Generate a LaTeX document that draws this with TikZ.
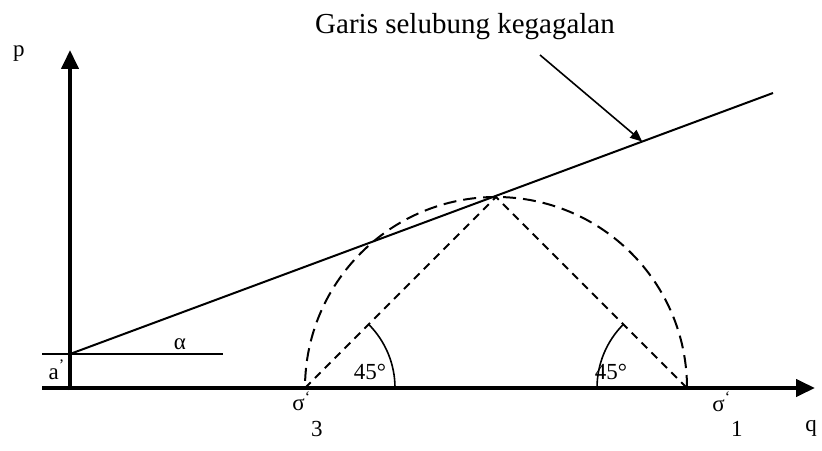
\documentclass[tikz,border=0pt]{standalone}
\usepackage{fontspec}
\setmainfont{Liberation Serif}
\usetikzlibrary{arrows.meta}

\begin{document}
\begin{tikzpicture}[
    x=0.5pt, y=0.5pt,
    axis/.style={line width=2pt, -{Triangle[length=9.5pt,width=8.5pt]}},
    envelope/.style={line width=1pt},
    circ/.style={line width=1pt, dash pattern=on 6.5pt off 3.5pt},
    chord/.style={line width=0.9pt, dash pattern=on 4pt off 3pt},
    anglearc/.style={line width=0.8pt},
    lbl/.style={font=\fontsize{11.5}{13}\selectfont, inner sep=1pt},
    pointer/.style={line width=0.8pt, -{Triangle[length=6pt,width=5pt]}}
]
    \useasboundingbox (0,0) rectangle (822,450);

    % Points
    \coordinate (vbot) at (70,60);
    \coordinate (ptip) at (70,400);
    \coordinate (qstart) at (42,62);
    \coordinate (qtip) at (815,62);
    \coordinate (A) at (70,96);
    \coordinate (aleft) at (42,96);
    \coordinate (aright) at (223,96);
    \coordinate (E) at (773,357);
    \coordinate (s3) at (305,62);
    \coordinate (s1) at (687,62);
    \coordinate (top) at (496,253);
    \coordinate (arc3) at (395,62);
    \coordinate (arc1) at (597,62);
    \coordinate (pstart) at (540,395);

    % Axes
    \draw[axis] (vbot) -- (ptip);
    \draw[axis] (qstart) -- (qtip);
    \draw[line width=1pt] (aleft) -- (aright);

    % Failure envelope
    \draw[envelope] (A) -- (E) coordinate[pos=0.814] (ptarget);

    % Mohr circle
    \draw[circ] (s1) arc[start angle=0, end angle=180, radius=191];
    \draw[chord] (s3) -- (top) -- (s1);

    % Angles
    \draw[anglearc] (arc3) arc[start angle=0, end angle=45, radius=90];
    \draw[anglearc] (arc1) arc[start angle=180, end angle=135, radius=90];

    % Labels
    \node[lbl] (plbl) at (19,396) {p};
    \node[lbl] (qlbl) at (811,22) {q};
    \node[lbl] (alpha) at (180,106) {α};
    \node[lbl] (albl) at (57,80) {a\textsuperscript{’}};
    \node[lbl] (ang3) at (370,78) {45°};
    \node[lbl] (ang1) at (611,78) {45°};
    \node[lbl, anchor=west] (sig3) at (290,36) {σ\textsuperscript{‘}\raisebox{-1.1em}{3}};
    \node[lbl, anchor=west] (sig1) at (710,36) {σ\textsuperscript{‘}\raisebox{-1.1em}{1}};
    \node[font=\fontsize{14.5}{17}\selectfont] (title) at (465,423) {Garis selubung kegagalan};

    % Arrows
    \draw[pointer] (pstart) -- (ptarget);
\end{tikzpicture}
\end{document}
